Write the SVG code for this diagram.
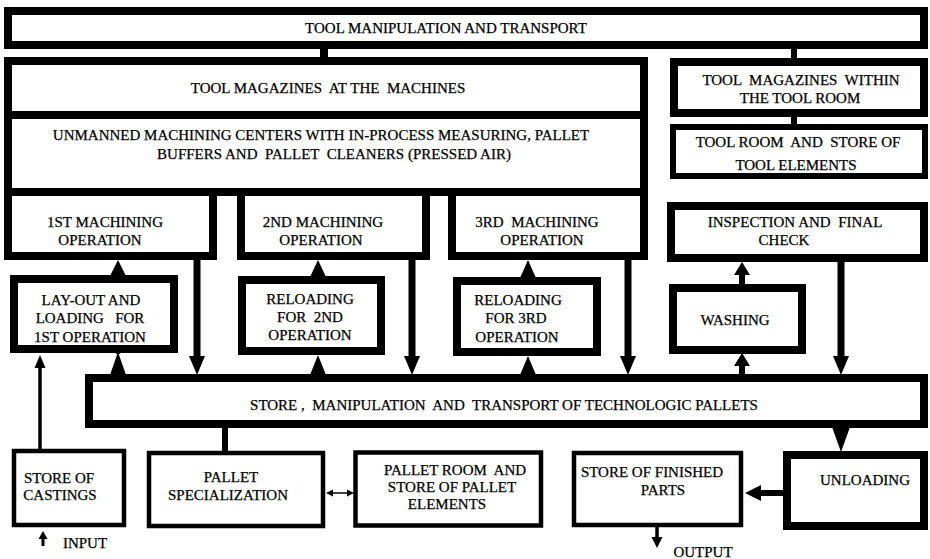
<svg xmlns="http://www.w3.org/2000/svg" width="930" height="559" viewBox="0 0 930 559" font-family="'Liberation Serif', 'Times New Roman', Times, 'DejaVu Serif', serif">
<style>
.bx{fill:#fff;stroke:#000;stroke-width:8}
.tb{fill:#fff;stroke:#000;stroke-width:4.5}
.mb{fill:#fff;stroke:#000;stroke-width:6}
text{font-family:'Liberation Serif','Times New Roman',Times,'DejaVu Serif',serif;font-size:15px;fill:#000;stroke:#000;stroke-width:0.25;text-anchor:middle}
.ln{stroke:#000;fill:none}
.ah{fill:#000;stroke:none}
</style>
<rect width="930" height="559" fill="#fff"/>
<g id="connectors">
<line class="ln" x1="324" y1="45" x2="324" y2="61" stroke-width="8"/>
<line class="ln" x1="794" y1="45" x2="794" y2="62" stroke-width="6"/>
<line class="ln" x1="794" y1="113" x2="794" y2="127" stroke-width="6"/>
<polygon class="ah" points="118,260 110,276 126,276"/>
<line class="ln" x1="197" y1="259" x2="197" y2="360" stroke-width="7"/>
<polygon class="ah" points="189,356 205,356 197,375"/>
<polygon class="ah" points="118,352 110,375 126,375"/>
<circle cx="118" cy="351" r="2.5" fill="#fff" stroke="#000" stroke-width="1.2"/>
<line class="ln" x1="40" y1="451" x2="40" y2="366" stroke-width="3.5"/>
<polygon class="ah" points="40,355 34.5,368 45.5,368"/>
<polygon class="ah" points="318,260 310,277 326,277"/>
<line class="ln" x1="412" y1="259" x2="412" y2="360" stroke-width="7"/>
<polygon class="ah" points="404,356 420,356 412,375"/>
<polygon class="ah" points="318,355 310,375 326,375"/>
<polygon class="ah" points="528,260 520,278 536,278"/>
<polygon class="ah" points="528,356 520,375 536,375"/>
<line class="ln" x1="628" y1="259" x2="628" y2="360" stroke-width="7"/>
<polygon class="ah" points="620,356 636,356 628,375"/>
<line class="ln" x1="742" y1="285" x2="742" y2="270" stroke-width="6"/>
<polygon class="ah" points="742,262 734,275 750,275"/>
<line class="ln" x1="742" y1="375" x2="742" y2="362" stroke-width="6"/>
<polygon class="ah" points="742,353 734,366 750,366"/>
<line class="ln" x1="841" y1="261" x2="841" y2="360" stroke-width="7"/>
<polygon class="ah" points="833,356 849,356 841,375"/>
<polygon class="ah" points="832,427 850,427 841,452"/>
<line class="ln" x1="225" y1="427" x2="225" y2="454" stroke-width="6"/>
<line class="ln" x1="331" y1="493" x2="349" y2="493" stroke-width="1.5"/>
<polygon class="ah" points="326,493 333,489.5 333,496.5"/>
<polygon class="ah" points="354,493 347,489.5 347,496.5"/>
<line class="ln" x1="784" y1="493" x2="756" y2="493" stroke-width="6"/>
<polygon class="ah" points="745,493 761,485 761,501"/>
<line class="ln" x1="657" y1="527" x2="657" y2="539" stroke-width="3.5"/>
<polygon class="ah" points="651.5,537 662.5,537 657,548"/>
<line class="ln" x1="43" y1="546" x2="43" y2="536" stroke-width="3"/>
<polygon class="ah" points="43,531 38.5,539 47.5,539"/>
</g>
<g id="tool-transport">
<rect class="bx" x="8" y="11" width="916" height="34"/>
<text x="446" y="33">TOOL MANIPULATION AND TRANSPORT</text>
</g>
<g id="tool-magazines-machines">
<rect class="bx" x="8" y="61" width="636" height="54"/>
<text x="328" y="93" xml:space="preserve">TOOL MAGAZINES  AT THE  MACHINES</text>
</g>
<g id="machining-centers">
<rect class="bx" x="8" y="115" width="636" height="77"/>
<text x="321" y="140">UNMANNED MACHINING CENTERS WITH IN-PROCESS MEASURING, PALLET</text>
<text x="334" y="159" xml:space="preserve">BUFFERS AND  PALLET  CLEANERS (PRESSED AIR)</text>
</g>
<g id="op1">
<rect class="bx" x="8" y="192" width="205" height="64"/>
<text x="105" y="227">1ST MACHINING</text>
<text x="100" y="245">OPERATION</text>
</g>
<g id="op2">
<rect class="bx" x="241" y="192" width="185" height="64"/>
<text x="323" y="227">2ND MACHINING</text>
<text x="321" y="245">OPERATION</text>
</g>
<g id="op3">
<rect class="bx" x="452" y="192" width="192" height="64"/>
<text x="537" y="227" xml:space="preserve">3RD  MACHINING</text>
<text x="542" y="245">OPERATION</text>
</g>
<g id="tool-magazines-room">
<rect class="bx" x="674" y="62" width="250" height="51"/>
<text x="801" y="85" xml:space="preserve">TOOL  MAGAZINES  WITHIN</text>
<text x="800" y="103">THE TOOL ROOM</text>
</g>
<g id="tool-room">
<rect class="mb" x="673" y="127" width="252" height="49"/>
<text x="798" y="147" xml:space="preserve">TOOL ROOM  AND  STORE OF</text>
<text x="796" y="170">TOOL ELEMENTS</text>
</g>
<g id="layout">
<rect class="bx" x="14" y="279" width="160" height="70"/>
<text x="91" y="305">LAY-OUT AND</text>
<text x="90" y="323" xml:space="preserve">LOADING   FOR</text>
<text x="90" y="342">1ST OPERATION</text>
</g>
<g id="reload2">
<rect class="bx" x="242" y="280" width="139" height="71"/>
<text x="310" y="304">RELOADING</text>
<text x="310" y="322" xml:space="preserve">FOR  2ND</text>
<text x="310" y="340">OPERATION</text>
</g>
<g id="reload3">
<rect class="bx" x="457" y="281" width="140" height="71"/>
<text x="518" y="305">RELOADING</text>
<text x="516" y="323">FOR 3RD</text>
<text x="517" y="342">OPERATION</text>
</g>
<g id="inspection">
<rect class="bx" x="671" y="206" width="253" height="52"/>
<text x="795" y="227" xml:space="preserve">INSPECTION AND  FINAL</text>
<text x="784" y="245">CHECK</text>
</g>
<g id="washing">
<rect class="bx" x="673" y="288" width="129" height="62"/>
<text x="735" y="325">WASHING</text>
</g>
<g id="pallet-store">
<rect class="bx" x="89" y="378" width="835" height="46"/>
<text x="504" y="410" xml:space="preserve">STORE ,  MANIPULATION  AND  TRANSPORT OF TECHNOLOGIC PALLETS</text>
</g>
<g id="castings">
<rect class="tb" x="14" y="451" width="110" height="74"/>
<text x="59" y="483">STORE OF</text>
<text x="60" y="500">CASTINGS</text>
</g>
<g id="pallet-spec">
<rect class="tb" x="149" y="453" width="174" height="73"/>
<text x="231" y="482">PALLET</text>
<text x="228" y="500">SPECIALIZATION</text>
</g>
<g id="pallet-room">
<rect class="tb" x="355.5" y="452.5" width="185.5" height="73"/>
<text x="455" y="475" xml:space="preserve">PALLET ROOM  AND</text>
<text x="452" y="492">STORE OF PALLET</text>
<text x="447" y="509">ELEMENTS</text>
</g>
<g id="finished">
<rect class="tb" x="574" y="453" width="167" height="72"/>
<text x="652" y="477">STORE OF FINISHED</text>
<text x="663" y="495">PARTS</text>
</g>
<g id="unloading">
<rect class="bx" x="787" y="455" width="137" height="71"/>
<text x="865" y="485">UNLOADING</text>
</g>
<g id="io">
<text x="85" y="548">INPUT</text>
<text x="703" y="557">OUTPUT</text>
</g>
</svg>
